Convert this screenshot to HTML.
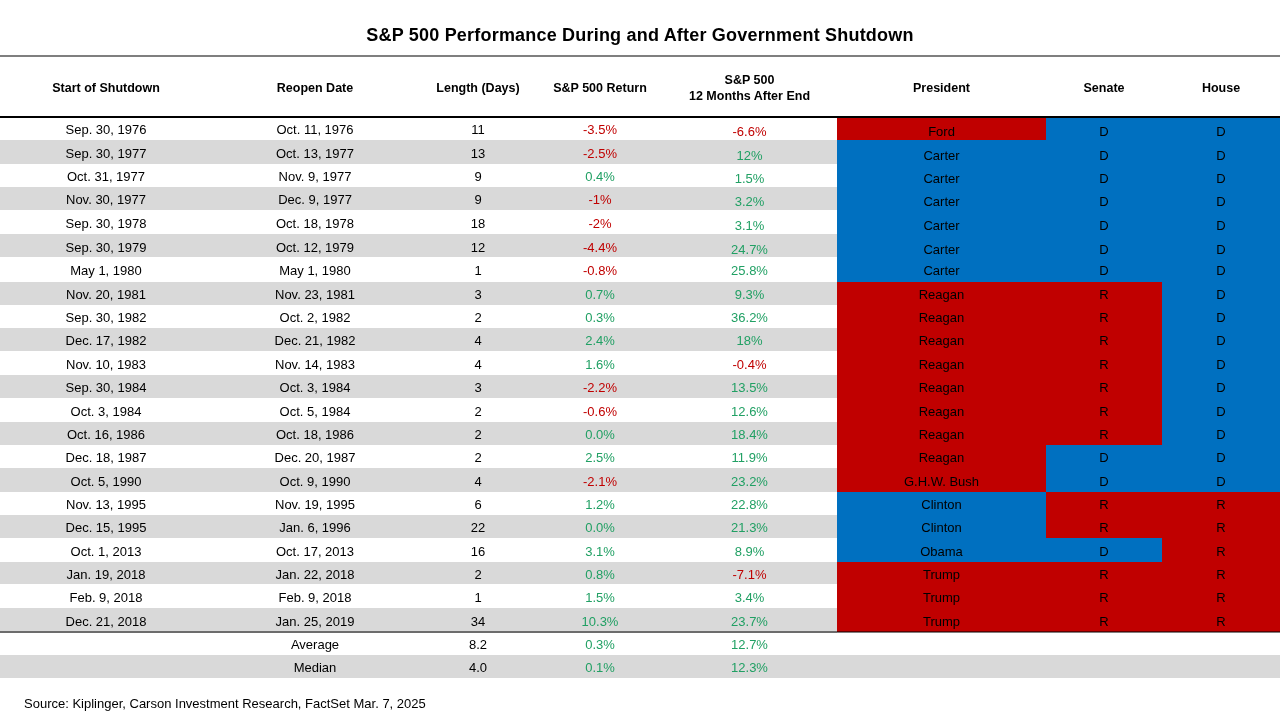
<!DOCTYPE html>
<html><head><meta charset="utf-8"><title>S&amp;P 500 Performance During and After Government Shutdown</title>
<style>
html,body{margin:0;padding:0;background:#fff;}
body{width:1280px;height:720px;position:relative;overflow:hidden;font-family:"Liberation Sans",sans-serif;color:#000;}
.a{position:absolute;}
.layer{position:absolute;left:0;top:0;width:1280px;height:720px;will-change:transform;}
.t{position:absolute;white-space:nowrap;line-height:20px;height:20px;text-align:center;font-size:13px;}
.h{font-weight:bold;color:#000;font-size:12.5px;}
.ttl{left:0;width:1280px;font-size:18px;letter-spacing:0.2px;color:#000;}
.r{color:#C00000;} .g{color:#21A064;} .k{color:#000;}
.bg{position:absolute;left:0;width:837px;}
.gr{background:#D9D9D9;}
.src{left:24px;text-align:left;}
</style></head><body>

<div class="a" style="left:0;top:55px;width:1280px;height:2px;background:#7F7F7F"></div>
<div class="bg gr" style="top:140px;height:24px"></div>
<div class="bg gr" style="top:187px;height:23px"></div>
<div class="bg gr" style="top:234px;height:23px"></div>
<div class="bg gr" style="top:282px;height:23px"></div>
<div class="bg gr" style="top:328px;height:23px"></div>
<div class="bg gr" style="top:375px;height:23px"></div>
<div class="bg gr" style="top:422px;height:23px"></div>
<div class="bg gr" style="top:468px;height:24px"></div>
<div class="bg gr" style="top:515px;height:23px"></div>
<div class="bg gr" style="top:562px;height:22px"></div>
<div class="bg gr" style="top:608px;height:25px"></div>
<div class="a" style="left:837px;width:209px;top:117px;height:23px;background:#C00000"></div>
<div class="a" style="left:837px;width:209px;top:140px;height:142px;background:#0070C0"></div>
<div class="a" style="left:837px;width:209px;top:282px;height:210px;background:#C00000"></div>
<div class="a" style="left:837px;width:209px;top:492px;height:70px;background:#0070C0"></div>
<div class="a" style="left:837px;width:209px;top:562px;height:70px;background:#C00000"></div>
<div class="a" style="left:1046px;width:116px;top:117px;height:165px;background:#0070C0"></div>
<div class="a" style="left:1046px;width:116px;top:282px;height:163px;background:#C00000"></div>
<div class="a" style="left:1046px;width:116px;top:445px;height:47px;background:#0070C0"></div>
<div class="a" style="left:1046px;width:116px;top:492px;height:46px;background:#C00000"></div>
<div class="a" style="left:1046px;width:116px;top:538px;height:24px;background:#0070C0"></div>
<div class="a" style="left:1046px;width:116px;top:562px;height:70px;background:#C00000"></div>
<div class="a" style="left:1162px;width:118px;top:117px;height:375px;background:#0070C0"></div>
<div class="a" style="left:1162px;width:118px;top:492px;height:140px;background:#C00000"></div>
<div class="a" style="left:0;top:116px;width:1280px;height:2px;background:#000"></div>
<div class="a" style="left:0;top:631px;width:1280px;height:2px;background:rgba(0,0,0,0.5)"></div>
<div class="a gr" style="left:0;top:655px;width:1280px;height:23px"></div>
<div class="layer">
<div class="t h ttl" style="top:25.0px">S&amp;P 500 Performance During and After Government Shutdown</div>
<div class="t h" style="left:0px;width:212px;top:77.9px">Start of Shutdown</div>
<div class="t h" style="left:212px;width:206px;top:77.9px">Reopen Date</div>
<div class="t h" style="left:418px;width:120px;top:77.9px">Length (Days)</div>
<div class="t h" style="left:538px;width:124px;top:77.9px">S&amp;P 500 Return</div>
<div class="t h" style="left:837px;width:209px;top:77.9px">President</div>
<div class="t h" style="left:1046px;width:116px;top:77.9px">Senate</div>
<div class="t h" style="left:1162px;width:118px;top:77.9px">House</div>
<div class="t h" style="left:662px;width:175px;top:69.7px">S&amp;P 500</div>
<div class="t h" style="left:662px;width:175px;top:85.9px">12 Months After End</div>
<div class="t" style="left:0px;width:212px;top:119.5px">Sep. 30, 1976</div>
<div class="t" style="left:212px;width:206px;top:119.5px">Oct. 11, 1976</div>
<div class="t" style="left:418px;width:120px;top:119.5px">11</div>
<div class="t r" style="left:538px;width:124px;top:119.5px">-3.5%</div>
<div class="t r" style="left:662px;width:175px;top:121.5px">-6.6%</div>
<div class="t k" style="left:837px;width:209px;top:121.5px">Ford</div>
<div class="t k" style="left:1046px;width:116px;top:121.5px">D</div>
<div class="t k" style="left:1162px;width:118px;top:121.5px">D</div>
<div class="t" style="left:0px;width:212px;top:143.5px">Sep. 30, 1977</div>
<div class="t" style="left:212px;width:206px;top:143.5px">Oct. 13, 1977</div>
<div class="t" style="left:418px;width:120px;top:143.5px">13</div>
<div class="t r" style="left:538px;width:124px;top:143.5px">-2.5%</div>
<div class="t g" style="left:662px;width:175px;top:145.5px">12%</div>
<div class="t k" style="left:837px;width:209px;top:145.5px">Carter</div>
<div class="t k" style="left:1046px;width:116px;top:145.5px">D</div>
<div class="t k" style="left:1162px;width:118px;top:145.5px">D</div>
<div class="t" style="left:0px;width:212px;top:166.5px">Oct. 31, 1977</div>
<div class="t" style="left:212px;width:206px;top:166.5px">Nov. 9, 1977</div>
<div class="t" style="left:418px;width:120px;top:166.5px">9</div>
<div class="t g" style="left:538px;width:124px;top:166.5px">0.4%</div>
<div class="t g" style="left:662px;width:175px;top:168.5px">1.5%</div>
<div class="t k" style="left:837px;width:209px;top:168.5px">Carter</div>
<div class="t k" style="left:1046px;width:116px;top:168.5px">D</div>
<div class="t k" style="left:1162px;width:118px;top:168.5px">D</div>
<div class="t" style="left:0px;width:212px;top:189.5px">Nov. 30, 1977</div>
<div class="t" style="left:212px;width:206px;top:189.5px">Dec. 9, 1977</div>
<div class="t" style="left:418px;width:120px;top:189.5px">9</div>
<div class="t r" style="left:538px;width:124px;top:189.5px">-1%</div>
<div class="t g" style="left:662px;width:175px;top:191.5px">3.2%</div>
<div class="t k" style="left:837px;width:209px;top:191.5px">Carter</div>
<div class="t k" style="left:1046px;width:116px;top:191.5px">D</div>
<div class="t k" style="left:1162px;width:118px;top:191.5px">D</div>
<div class="t" style="left:0px;width:212px;top:213.5px">Sep. 30, 1978</div>
<div class="t" style="left:212px;width:206px;top:213.5px">Oct. 18, 1978</div>
<div class="t" style="left:418px;width:120px;top:213.5px">18</div>
<div class="t r" style="left:538px;width:124px;top:213.5px">-2%</div>
<div class="t g" style="left:662px;width:175px;top:215.5px">3.1%</div>
<div class="t k" style="left:837px;width:209px;top:215.5px">Carter</div>
<div class="t k" style="left:1046px;width:116px;top:215.5px">D</div>
<div class="t k" style="left:1162px;width:118px;top:215.5px">D</div>
<div class="t" style="left:0px;width:212px;top:237.5px">Sep. 30, 1979</div>
<div class="t" style="left:212px;width:206px;top:237.5px">Oct. 12, 1979</div>
<div class="t" style="left:418px;width:120px;top:237.5px">12</div>
<div class="t r" style="left:538px;width:124px;top:237.5px">-4.4%</div>
<div class="t g" style="left:662px;width:175px;top:239.5px">24.7%</div>
<div class="t k" style="left:837px;width:209px;top:239.5px">Carter</div>
<div class="t k" style="left:1046px;width:116px;top:239.5px">D</div>
<div class="t k" style="left:1162px;width:118px;top:239.5px">D</div>
<div class="t" style="left:0px;width:212px;top:260.5px">May 1, 1980</div>
<div class="t" style="left:212px;width:206px;top:260.5px">May 1, 1980</div>
<div class="t" style="left:418px;width:120px;top:260.5px">1</div>
<div class="t r" style="left:538px;width:124px;top:260.5px">-0.8%</div>
<div class="t g" style="left:662px;width:175px;top:260.5px">25.8%</div>
<div class="t k" style="left:837px;width:209px;top:260.5px">Carter</div>
<div class="t k" style="left:1046px;width:116px;top:260.5px">D</div>
<div class="t k" style="left:1162px;width:118px;top:260.5px">D</div>
<div class="t" style="left:0px;width:212px;top:284.5px">Nov. 20, 1981</div>
<div class="t" style="left:212px;width:206px;top:284.5px">Nov. 23, 1981</div>
<div class="t" style="left:418px;width:120px;top:284.5px">3</div>
<div class="t g" style="left:538px;width:124px;top:284.5px">0.7%</div>
<div class="t g" style="left:662px;width:175px;top:284.5px">9.3%</div>
<div class="t k" style="left:837px;width:209px;top:284.5px">Reagan</div>
<div class="t k" style="left:1046px;width:116px;top:284.5px">R</div>
<div class="t k" style="left:1162px;width:118px;top:284.5px">D</div>
<div class="t" style="left:0px;width:212px;top:307.5px">Sep. 30, 1982</div>
<div class="t" style="left:212px;width:206px;top:307.5px">Oct. 2, 1982</div>
<div class="t" style="left:418px;width:120px;top:307.5px">2</div>
<div class="t g" style="left:538px;width:124px;top:307.5px">0.3%</div>
<div class="t g" style="left:662px;width:175px;top:307.5px">36.2%</div>
<div class="t k" style="left:837px;width:209px;top:307.5px">Reagan</div>
<div class="t k" style="left:1046px;width:116px;top:307.5px">R</div>
<div class="t k" style="left:1162px;width:118px;top:307.5px">D</div>
<div class="t" style="left:0px;width:212px;top:330.5px">Dec. 17, 1982</div>
<div class="t" style="left:212px;width:206px;top:330.5px">Dec. 21, 1982</div>
<div class="t" style="left:418px;width:120px;top:330.5px">4</div>
<div class="t g" style="left:538px;width:124px;top:330.5px">2.4%</div>
<div class="t g" style="left:662px;width:175px;top:330.5px">18%</div>
<div class="t k" style="left:837px;width:209px;top:330.5px">Reagan</div>
<div class="t k" style="left:1046px;width:116px;top:330.5px">R</div>
<div class="t k" style="left:1162px;width:118px;top:330.5px">D</div>
<div class="t" style="left:0px;width:212px;top:354.5px">Nov. 10, 1983</div>
<div class="t" style="left:212px;width:206px;top:354.5px">Nov. 14, 1983</div>
<div class="t" style="left:418px;width:120px;top:354.5px">4</div>
<div class="t g" style="left:538px;width:124px;top:354.5px">1.6%</div>
<div class="t r" style="left:662px;width:175px;top:354.5px">-0.4%</div>
<div class="t k" style="left:837px;width:209px;top:354.5px">Reagan</div>
<div class="t k" style="left:1046px;width:116px;top:354.5px">R</div>
<div class="t k" style="left:1162px;width:118px;top:354.5px">D</div>
<div class="t" style="left:0px;width:212px;top:377.5px">Sep. 30, 1984</div>
<div class="t" style="left:212px;width:206px;top:377.5px">Oct. 3, 1984</div>
<div class="t" style="left:418px;width:120px;top:377.5px">3</div>
<div class="t r" style="left:538px;width:124px;top:377.5px">-2.2%</div>
<div class="t g" style="left:662px;width:175px;top:377.5px">13.5%</div>
<div class="t k" style="left:837px;width:209px;top:377.5px">Reagan</div>
<div class="t k" style="left:1046px;width:116px;top:377.5px">R</div>
<div class="t k" style="left:1162px;width:118px;top:377.5px">D</div>
<div class="t" style="left:0px;width:212px;top:401.5px">Oct. 3, 1984</div>
<div class="t" style="left:212px;width:206px;top:401.5px">Oct. 5, 1984</div>
<div class="t" style="left:418px;width:120px;top:401.5px">2</div>
<div class="t r" style="left:538px;width:124px;top:401.5px">-0.6%</div>
<div class="t g" style="left:662px;width:175px;top:401.5px">12.6%</div>
<div class="t k" style="left:837px;width:209px;top:401.5px">Reagan</div>
<div class="t k" style="left:1046px;width:116px;top:401.5px">R</div>
<div class="t k" style="left:1162px;width:118px;top:401.5px">D</div>
<div class="t" style="left:0px;width:212px;top:424.5px">Oct. 16, 1986</div>
<div class="t" style="left:212px;width:206px;top:424.5px">Oct. 18, 1986</div>
<div class="t" style="left:418px;width:120px;top:424.5px">2</div>
<div class="t g" style="left:538px;width:124px;top:424.5px">0.0%</div>
<div class="t g" style="left:662px;width:175px;top:424.5px">18.4%</div>
<div class="t k" style="left:837px;width:209px;top:424.5px">Reagan</div>
<div class="t k" style="left:1046px;width:116px;top:424.5px">R</div>
<div class="t k" style="left:1162px;width:118px;top:424.5px">D</div>
<div class="t" style="left:0px;width:212px;top:447.5px">Dec. 18, 1987</div>
<div class="t" style="left:212px;width:206px;top:447.5px">Dec. 20, 1987</div>
<div class="t" style="left:418px;width:120px;top:447.5px">2</div>
<div class="t g" style="left:538px;width:124px;top:447.5px">2.5%</div>
<div class="t g" style="left:662px;width:175px;top:447.5px">11.9%</div>
<div class="t k" style="left:837px;width:209px;top:447.5px">Reagan</div>
<div class="t k" style="left:1046px;width:116px;top:447.5px">D</div>
<div class="t k" style="left:1162px;width:118px;top:447.5px">D</div>
<div class="t" style="left:0px;width:212px;top:471.5px">Oct. 5, 1990</div>
<div class="t" style="left:212px;width:206px;top:471.5px">Oct. 9, 1990</div>
<div class="t" style="left:418px;width:120px;top:471.5px">4</div>
<div class="t r" style="left:538px;width:124px;top:471.5px">-2.1%</div>
<div class="t g" style="left:662px;width:175px;top:471.5px">23.2%</div>
<div class="t k" style="left:837px;width:209px;top:471.5px">G.H.W. Bush</div>
<div class="t k" style="left:1046px;width:116px;top:471.5px">D</div>
<div class="t k" style="left:1162px;width:118px;top:471.5px">D</div>
<div class="t" style="left:0px;width:212px;top:494.5px">Nov. 13, 1995</div>
<div class="t" style="left:212px;width:206px;top:494.5px">Nov. 19, 1995</div>
<div class="t" style="left:418px;width:120px;top:494.5px">6</div>
<div class="t g" style="left:538px;width:124px;top:494.5px">1.2%</div>
<div class="t g" style="left:662px;width:175px;top:494.5px">22.8%</div>
<div class="t k" style="left:837px;width:209px;top:494.5px">Clinton</div>
<div class="t k" style="left:1046px;width:116px;top:494.5px">R</div>
<div class="t k" style="left:1162px;width:118px;top:494.5px">R</div>
<div class="t" style="left:0px;width:212px;top:517.5px">Dec. 15, 1995</div>
<div class="t" style="left:212px;width:206px;top:517.5px">Jan. 6, 1996</div>
<div class="t" style="left:418px;width:120px;top:517.5px">22</div>
<div class="t g" style="left:538px;width:124px;top:517.5px">0.0%</div>
<div class="t g" style="left:662px;width:175px;top:517.5px">21.3%</div>
<div class="t k" style="left:837px;width:209px;top:517.5px">Clinton</div>
<div class="t k" style="left:1046px;width:116px;top:517.5px">R</div>
<div class="t k" style="left:1162px;width:118px;top:517.5px">R</div>
<div class="t" style="left:0px;width:212px;top:541.5px">Oct. 1, 2013</div>
<div class="t" style="left:212px;width:206px;top:541.5px">Oct. 17, 2013</div>
<div class="t" style="left:418px;width:120px;top:541.5px">16</div>
<div class="t g" style="left:538px;width:124px;top:541.5px">3.1%</div>
<div class="t g" style="left:662px;width:175px;top:541.5px">8.9%</div>
<div class="t k" style="left:837px;width:209px;top:541.5px">Obama</div>
<div class="t k" style="left:1046px;width:116px;top:541.5px">D</div>
<div class="t k" style="left:1162px;width:118px;top:541.5px">R</div>
<div class="t" style="left:0px;width:212px;top:564.5px">Jan. 19, 2018</div>
<div class="t" style="left:212px;width:206px;top:564.5px">Jan. 22, 2018</div>
<div class="t" style="left:418px;width:120px;top:564.5px">2</div>
<div class="t g" style="left:538px;width:124px;top:564.5px">0.8%</div>
<div class="t r" style="left:662px;width:175px;top:564.5px">-7.1%</div>
<div class="t k" style="left:837px;width:209px;top:564.5px">Trump</div>
<div class="t k" style="left:1046px;width:116px;top:564.5px">R</div>
<div class="t k" style="left:1162px;width:118px;top:564.5px">R</div>
<div class="t" style="left:0px;width:212px;top:587.5px">Feb. 9, 2018</div>
<div class="t" style="left:212px;width:206px;top:587.5px">Feb. 9, 2018</div>
<div class="t" style="left:418px;width:120px;top:587.5px">1</div>
<div class="t g" style="left:538px;width:124px;top:587.5px">1.5%</div>
<div class="t g" style="left:662px;width:175px;top:587.5px">3.4%</div>
<div class="t k" style="left:837px;width:209px;top:587.5px">Trump</div>
<div class="t k" style="left:1046px;width:116px;top:587.5px">R</div>
<div class="t k" style="left:1162px;width:118px;top:587.5px">R</div>
<div class="t" style="left:0px;width:212px;top:611.5px">Dec. 21, 2018</div>
<div class="t" style="left:212px;width:206px;top:611.5px">Jan. 25, 2019</div>
<div class="t" style="left:418px;width:120px;top:611.5px">34</div>
<div class="t g" style="left:538px;width:124px;top:611.5px">10.3%</div>
<div class="t g" style="left:662px;width:175px;top:611.5px">23.7%</div>
<div class="t k" style="left:837px;width:209px;top:611.5px">Trump</div>
<div class="t k" style="left:1046px;width:116px;top:611.5px">R</div>
<div class="t k" style="left:1162px;width:118px;top:611.5px">R</div>
<div class="t" style="left:212px;width:206px;top:634.5px">Average</div>
<div class="t" style="left:418px;width:120px;top:634.5px">8.2</div>
<div class="t g" style="left:538px;width:124px;top:634.5px">0.3%</div>
<div class="t g" style="left:662px;width:175px;top:634.5px">12.7%</div>
<div class="t" style="left:212px;width:206px;top:657.5px">Median</div>
<div class="t" style="left:418px;width:120px;top:657.5px">4.0</div>
<div class="t g" style="left:538px;width:124px;top:657.5px">0.1%</div>
<div class="t g" style="left:662px;width:175px;top:657.5px">12.3%</div>
<div class="t src" style="top:693.5px">Source: Kiplinger, Carson Investment Research, FactSet Mar. 7, 2025</div>
</div>
</body></html>
